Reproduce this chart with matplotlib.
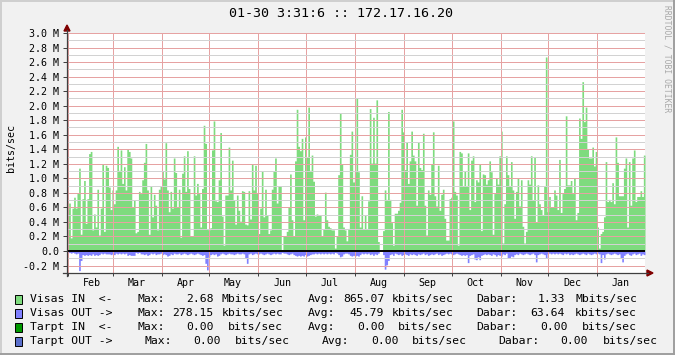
import datetime as dt
import matplotlib
matplotlib.use('Agg')
import matplotlib.pyplot as plt
import matplotlib.dates as mdates
from matplotlib.lines import Line2D
from matplotlib.patches import Rectangle, Polygon
from matplotlib.ticker import MultipleLocator, FuncFormatter, NullFormatter
import numpy as np

title = "01-30 3:31:6 :: 172.17.16.20"
start = dt.datetime(2011, 1, 31, 3, 31)
end = dt.datetime(2012, 1, 31, 3, 31)

# Visas IN, Mbits/sec in chunks of ~84 px
in_feb = [0.57, 0.66, 0.18, 0.59, 0.74, 0.59, 0.80, 1.14, 0.23, 0.72,
          0.97, 0.38, 0.72, 1.34, 1.37, 0.29, 0.51, 0.33, 0.85, 0.22,
          0.59, 1.20, 0.27, 1.18, 1.15, 0.88, 0.57, 0.84, 0.65, 0.84,
          1.44, 1.11, 1.39, 0.93, 1.16, 0.84, 1.41, 1.37, 1.28, 0.61,
          0.70, 0.25, 0.27, 0.82, 0.79, 0.98, 1.22, 1.48, 0.84, 0.23]
in_apr = [0.89, 0.47, 0.78, 0.63, 0.29, 0.85, 0.89, 1.10, 0.99, 1.49,
          0.84, 0.54, 0.82, 0.59, 1.28, 1.08, 0.61, 0.85, 0.19, 1.07,
          1.31, 0.82, 1.38, 0.86, 0.20, 0.20, 1.31, 0.77, 0.93, 0.79,
          0.33, 0.86, 1.73, 1.48, 0.30, 0.29, 0.32, 1.39, 1.79, 0.69,
          0.68, 0.98, 1.63, 0.48, 0.08, 0.77, 0.77, 1.43, 0.84]
in_jun = [1.25, 0.70, 0.37, 0.77, 0.56, 0.41, 0.83, 0.82, 0.37, 0.36,
          0.83, 0.44, 1.20, 0.84, 1.18, 0.79, 0.24, 0.59, 1.10, 0.47,
          0.85, 0.50, 0.24, 0.29, 0.85, 1.10, 1.28, 0.66, 0.89, 0.89,
          0.02, 0.20, 0.21, 0.27, 0.61, 1.06, 0.43, 0.20, 1.24, 1.95,
          1.44, 1.38, 1.55, 0.43, 1.57, 1.30, 1.98, 1.11, 1.32, 0.96,
          0.48, 0.51]
in_aug = [0.50, 0.50, 0.20, 0.30, 0.81, 0.43, 0.34, 0.32, 0.29, 0.29,
          0.04, 0.21, 1.05, 1.90, 1.20, 0.33, 0.29, 0.14, 0.31, 1.33,
          1.65, 0.95, 1.09, 2.11, 1.09, 0.33, 0.76, 0.30, 0.50, 0.31,
          0.69, 1.96, 1.21, 1.84, 1.21, 2.08, 0.13, 0.00, 0.00, 0.28,
          0.84, 0.71, 1.92, 0.71, 0.39, 0.08, 0.52, 0.52, 0.56, 0.67]
in_sep = [1.95, 1.64, 1.12, 1.50, 0.93, 1.24, 1.65, 1.32, 1.24, 0.63,
          1.50, 1.15, 1.12, 1.62, 0.63, 0.22, 0.84, 0.78, 1.20, 1.64,
          0.76, 0.62, 1.18, 0.56, 0.78, 0.85, 0.45, 0.15, 0.15, 0.72,
          0.74, 1.79, 0.82, 0.77, 0.08, 1.37, 1.35, 0.89, 1.10, 0.89,
          1.35, 0.57, 1.25, 1.31, 0.68, 0.98, 0.95, 1.20, 0.28, 1.06,
          1.05]
in_nov = [0.92, 0.98, 1.24, 1.09, 0.23, 0.79, 1.01, 0.92, 1.31, 1.65,
          0.11, 0.65, 1.31, 1.05, 0.89, 1.23, 0.84, 0.45, 0.82, 1.01,
          0.62, 0.98, 0.34, 0.11, 0.27, 0.98, 0.92, 1.31, 0.70, 1.29,
          0.40, 0.91, 0.65, 0.57, 0.50, 0.89, 2.67, 0.54, 0.75, 0.61,
          0.60, 0.84, 0.77, 0.57, 1.26, 0.53, 0.79, 0.86, 1.86, 0.91,
          0.91]
in_dec = [0.97, 0.79, 1.00, 0.43, 0.53, 1.83, 1.55, 2.33, 1.78, 1.98,
          1.40, 1.28, 1.28, 1.43, 1.17, 1.37, 0.33, 0.04, 0.24, 0.27,
          0.47, 1.23, 0.68, 0.71, 0.68, 0.94, 0.65, 1.57, 1.22, 0.76,
          0.76, 0.76, 1.14, 1.28, 0.33, 1.23, 0.63, 1.28, 1.39, 0.68,
          0.75, 0.75, 0.83, 0.75, 1.32]

# Visas OUT, Mbits/sec (drawn below zero)
out_feb = [0.03, 0.02, 0.03, 0.02, 0.03, 0.04, 0.03, 0.27, 0.13, 0.05,
           0.06, 0.05, 0.06, 0.05, 0.06, 0.04, 0.06, 0.05, 0.06, 0.05,
           0.03, 0.04, 0.03, 0.04, 0.04, 0.04, 0.05, 0.04, 0.05, 0.03,
           0.04, 0.03, 0.04, 0.03, 0.04, 0.03, 0.06, 0.05, 0.06, 0.06,
           0.06, 0.02, 0.03, 0.02, 0.04, 0.04, 0.05, 0.04, 0.06, 0.05]
out_apr = [0.03, 0.04, 0.03, 0.05, 0.04, 0.04, 0.03, 0.05, 0.04, 0.05,
           0.07, 0.06, 0.04, 0.05, 0.03, 0.04, 0.04, 0.03, 0.05, 0.04,
           0.03, 0.04, 0.05, 0.04, 0.03, 0.04, 0.05, 0.04, 0.03, 0.04,
           0.05, 0.06, 0.05, 0.17, 0.26, 0.08, 0.05, 0.04, 0.05, 0.04,
           0.07, 0.06, 0.04, 0.03, 0.04, 0.05, 0.04, 0.03, 0.04]
out_jun = [0.04, 0.05, 0.04, 0.03, 0.04, 0.04, 0.03, 0.04, 0.09, 0.17,
           0.04, 0.03, 0.05, 0.04, 0.03, 0.04, 0.04, 0.03, 0.04, 0.05,
           0.04, 0.03, 0.04, 0.05, 0.04, 0.03, 0.04, 0.03, 0.04, 0.04,
           0.02, 0.03, 0.03, 0.04, 0.05, 0.04, 0.03, 0.05, 0.06, 0.07,
           0.06, 0.07, 0.06, 0.07, 0.05, 0.07, 0.06, 0.05, 0.04, 0.04,
           0.03, 0.04]
out_aug = [0.03, 0.04, 0.03, 0.04, 0.03, 0.04, 0.03, 0.04, 0.03, 0.04,
           0.02, 0.03, 0.05, 0.08, 0.07, 0.04, 0.03, 0.03, 0.04, 0.06,
           0.07, 0.06, 0.07, 0.06, 0.07, 0.05, 0.03, 0.04, 0.03, 0.04,
           0.03, 0.05, 0.04, 0.06, 0.04, 0.05, 0.03, 0.00, 0.00, 0.05,
           0.25, 0.19, 0.13, 0.05, 0.04, 0.06, 0.03, 0.04, 0.05, 0.04]
out_sep = [0.06, 0.05, 0.04, 0.05, 0.06, 0.04, 0.05, 0.04, 0.05, 0.06,
           0.04, 0.05, 0.04, 0.03, 0.05, 0.04, 0.06, 0.05, 0.04, 0.05,
           0.04, 0.03, 0.05, 0.04, 0.06, 0.05, 0.04, 0.03, 0.04, 0.03,
           0.04, 0.05, 0.04, 0.03, 0.04, 0.05, 0.06, 0.05, 0.06, 0.05,
           0.16, 0.06, 0.05, 0.04, 0.11, 0.12, 0.08, 0.12, 0.06, 0.05,
           0.04]
out_nov = [0.05, 0.04, 0.05, 0.06, 0.04, 0.05, 0.07, 0.05, 0.06, 0.07,
           0.04, 0.05, 0.03, 0.09, 0.10, 0.07, 0.08, 0.05, 0.04, 0.05,
           0.03, 0.04, 0.05, 0.04, 0.03, 0.04, 0.05, 0.04, 0.03, 0.05,
           0.15, 0.05, 0.04, 0.03, 0.04, 0.05, 0.10, 0.04, 0.03, 0.04,
           0.03, 0.04, 0.03, 0.04, 0.03, 0.04, 0.05, 0.03, 0.04, 0.03,
           0.05]
out_dec = [0.04, 0.05, 0.04, 0.03, 0.04, 0.05, 0.04, 0.03, 0.04, 0.05,
           0.03, 0.04, 0.05, 0.04, 0.03, 0.04, 0.03, 0.04, 0.16, 0.05,
           0.11, 0.04, 0.03, 0.04, 0.05, 0.04, 0.03, 0.04, 0.05, 0.04,
           0.10, 0.15, 0.06, 0.04, 0.03, 0.05, 0.06, 0.04, 0.03, 0.05,
           0.04, 0.03, 0.06, 0.04, 0.05]

legend_rows = [
    ("#7EDB7E", "Visas IN  <-", ["Max:", "2.68", "Mbits/sec", "Avg:", "865.07", "kbits/sec", "Dabar:", "1.33", "Mbits/sec"]),
    ("#8080FF", "Visas OUT ->", ["Max:", "278.15", "kbits/sec", "Avg:", "45.79", "kbits/sec", "Dabar:", "63.64", "kbits/sec"]),
    ("#009900", "Tarpt IN  <-", ["Max:", "0.00", "bits/sec", "Avg:", "0.00", "bits/sec", "Dabar:", "0.00", "bits/sec"]),
    ("#5A6FCB", "Tarpt OUT ->", ["Max:", "0.00", "bits/sec", "Avg:", "0.00", "bits/sec", "Dabar:", "0.00", "bits/sec"]),
]

plt.rcParams['font.family'] = 'DejaVu Sans Mono'

W, H = 675.0, 355.0
def fx(px):
    return px / W
def fy(py):
    return 1 - py / H

visas_in = np.array(in_feb + in_apr + in_jun + in_aug + in_sep + in_nov + in_dec) * 1e6
visas_out = -np.array(out_feb + out_apr + out_jun + out_aug + out_sep + out_nov + out_dec) * 1e6

n = len(visas_in)
step = (end - start) / n
x = mdates.date2num([start + i * step for i in range(n + 1)])

fig = plt.figure(figsize=(6.75, 3.55), dpi=100)
fig.patch.set_facecolor('#F1F1F1')

ax = fig.add_axes([fx(67), fy(273), (645 - 67) / W, (273 - 33) / H])
ax.set_facecolor('white')
ax.fill_between(x, 0, np.append(visas_in, visas_in[-1]), step='post', color='#7EDB7E',
                lw=0, antialiased=False, zorder=1)
ax.fill_between(x, 0, np.append(visas_out, visas_out[-1]), step='post', color='#8080FF',
                lw=0, antialiased=False, zorder=1)
ax.axhline(0, color='black', lw=1.4, zorder=3)

ax.set_xlim(mdates.date2num(start), mdates.date2num(end))
ax.set_ylim(-0.303e6, 3.0e6)

ax.yaxis.set_major_locator(MultipleLocator(0.2e6))
ax.yaxis.set_minor_locator(MultipleLocator(0.1e6))
ax.yaxis.set_major_formatter(FuncFormatter(lambda v, p: '0.0' if abs(v) < 1 else '%.1f M' % (v / 1e6)))
ax.xaxis.set_major_locator(mdates.MonthLocator())
ax.xaxis.set_major_formatter(NullFormatter())
ax.xaxis.set_minor_locator(mdates.MonthLocator(bymonthday=16))
ax.xaxis.set_minor_formatter(mdates.DateFormatter('%b'))

dots = (0, (1, 1))
ax.set_axisbelow(False)
ax.grid(True, which='major', color='#E6A2A2', lw=0.72, ls=dots, antialiased=False)
ax.grid(True, which='minor', axis='y', color='#D2D2D2', lw=0.72, ls=dots, antialiased=False)

for s in ax.spines.values():
    s.set_visible(False)
ax.tick_params(axis='y', which='major', length=3, width=0.72, color='#404040', pad=2.5, labelsize=7.2)
ax.tick_params(axis='y', which='minor', length=0)
ax.tick_params(axis='x', which='major', length=2.5, width=0.72, color='#404040')
ax.tick_params(axis='x', which='minor', length=0, pad=3.5, labelsize=7.2)

# axis lines with arrows
fig.add_artist(Line2D([fx(67), fx(67)], [fy(276), fy(30)], color='#404040', lw=0.9, transform=fig.transFigure))
fig.add_artist(Line2D([fx(63), fx(648)], [fy(273), fy(273)], color='#404040', lw=0.9, transform=fig.transFigure))
fig.add_artist(Polygon([(fx(64), fy(31)), (fx(70), fy(31)), (fx(67), fy(25))], closed=True,
                       color='#800000', transform=fig.transFigure))
fig.add_artist(Polygon([(fx(647), fy(270)), (fx(647), fy(276)), (fx(653), fy(273))], closed=True,
                       color='#800000', transform=fig.transFigure))

# frame
fig.add_artist(Line2D([0, 1], [fy(0.7), fy(0.7)], color='#CFCFCF', lw=1.4, transform=fig.transFigure))
fig.add_artist(Line2D([fx(0.7), fx(0.7)], [0, 1], color='#CFCFCF', lw=1.4, transform=fig.transFigure))
fig.add_artist(Line2D([0, 1], [fy(354.3), fy(354.3)], color='#9E9E9E', lw=1.4, transform=fig.transFigure))
fig.add_artist(Line2D([fx(674.3), fx(674.3)], [0, 1], color='#9E9E9E', lw=1.4, transform=fig.transFigure))

fig.text(fx(341), fy(13.5), title, ha='center', va='center', fontsize=9.6)
fig.text(fx(11), fy(148), 'bits/sec', rotation=90, ha='center', va='center', fontsize=7.2)
fig.text(fx(667), fy(5), 'RRDTOOL / TOBI OETIKER', rotation=270, ha='center', va='top',
         fontsize=5.8, color='#A8A8A8')

row_y = [299, 313, 327, 341]
col_x = [[137.6, 186, 221.5, 307.5, 342.8, 391.4, 476.6, 537.6, 575],
         [137.6, 172, 221.5, 307.5, 349.7, 391.4, 476.6, 530.3, 575],
         [137.6, 186, 228, 307.5, 357, 397.8, 476.6, 539.8, 582],
         [144.5, 193.5, 235.3, 321.7, 370.8, 412, 498, 560.4, 603]]
for (color, name, items), yy, xs in zip(legend_rows, row_y, col_x):
    fig.add_artist(Rectangle((fx(15), fy(yy + 4.5)), 7 / W, 9 / H, facecolor=color,
                             edgecolor='black', lw=0.7, transform=fig.transFigure))
    fig.text(fx(30), fy(yy), name, ha='left', va='center', fontsize=8.2)
    for xx, txt in zip(xs, items):
        fig.text(fx(xx), fy(yy), txt, ha='left', va='center', fontsize=8.2)

fig.savefig('out.png', dpi=100, facecolor=fig.get_facecolor())
